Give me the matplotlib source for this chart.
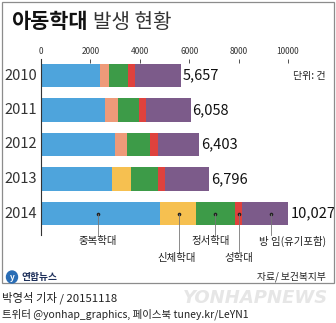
import numpy as np
import matplotlib
matplotlib.use('Agg')
import matplotlib.pyplot as plt
from matplotlib.patches import Rectangle, Ellipse

plt.rcParams['font.family'] = ['Noto Sans CJK KR', 'DejaVu Sans']

# data (건)
years = ['2010', '2011', '2012', '2013', '2014']
totals = [5657, 6058, 6403, 6796, 10027]
multi = [2389, 2605, 2996, 2891, 4814]      # 중복학대
physical = [364, 500, 474, 753, 1453]        # 신체학대
emotional = [781, 875, 943, 1101, 1582]      # 정서학대
sexual = [259, 258, 312, 273, 308]           # 성학대
neglect = [1864, 1820, 1678, 1778, 1870]     # 방임(유기포함)
cat_names = ['중복학대', '신체학대', '정서학대', '성학대', '방 임(유기포함)']
xticks = [0, 2000, 4000, 6000, 8000, 10000]

c_blue, c_salmon, c_yellow = '#4ea4dc', '#ee9a79', '#f6c050'
c_green, c_red, c_purple = '#3d9b48', '#df423d', '#7c5b8a'
# 2010-2012 use salmon for 신체학대, 2013-2014 use yellow
phys_colors = [c_salmon, c_salmon, c_salmon, c_yellow, c_yellow]

W, H = 336, 323
fig = plt.figure(figsize=(W / 100, H / 100), dpi=100)
fig.patch.set_facecolor('white')

# panel frame
fig.add_artist(Rectangle((1.5 / W, 1 - 283 / H), 332 / W, 281.5 / H, transform=fig.transFigure,
                         fill=False, ec='#8c8c8c', lw=0.9))

# axes placed in pixels: x 0 -> px 41, 10000 -> px 288 ; rows centred at px 75.5 + 34.5*i
ax_top, ax_bot = 59, 235
ax = fig.add_axes([41 / W, 1 - ax_bot / H, 247 / W, (ax_bot - ax_top) / H])
ax.set_xlim(0, 10000)
y0 = 75.5
step = 34.5
ax.set_ylim((ax_bot - y0) / step, (ax_top - y0) / step)
ax.patch.set_alpha(0)

y = np.arange(len(years))
segs = [multi, physical, emotional, sexual, neglect]
left = np.zeros(len(years))
for k, vals in enumerate(segs):
    cols = phys_colors if k == 1 else [c_blue, None, c_green, c_red, c_purple][k]
    ax.barh(y, vals, left=left, height=0.68, color=cols, lw=0)
    left += np.array(vals)

for i, t in enumerate(totals):
    ax.text(t + 80, i, f'{t:,}', va='center', ha='left', fontsize=10.5, color='#111')
    ax.text(-170, i, years[i], va='center', ha='right', fontsize=10.5, color='#333')

ax.xaxis.tick_top()
ax.set_xticks(xticks)
ax.set_xticklabels([str(v) for v in xticks], fontsize=6, color='#222')
ax.tick_params(axis='x', direction='in', length=3, width=0.6, pad=2, colors='#333')
ax.set_yticks([])
for s in ['right', 'bottom', 'top']:
    ax.spines[s].set_visible(False)
ax.spines['left'].set_linewidth(0.8)
ax.spines['left'].set_color('#333')

ax.text(1.15, 0, '단위: 건', transform=ax.get_yaxis_transform(),
        va='center', ha='right', fontsize=7.2, color='#222')

# category call-outs on the 2014 bar
frac = [0.48, 0.52, 0.5, 0.5, 0.62]
row = [0, 1, 0, 1, 0]
dx_lab = [0, -90, -200, 0, 850]
lab_y = [(241 - y0) / step, (258 - y0) / step]
end_y = [(235 - y0) / step, (252 - y0) / step]
start = 0
for k, vals in enumerate(segs):
    xd = start + frac[k] * vals[-1]
    start += vals[-1]
    ax.plot([xd], [4], 'o', ms=1.6, color='#222', clip_on=False)
    ax.plot([xd, xd], [4, end_y[row[k]]], color='#777', lw=0.6, clip_on=False)
    ax.text(xd + dx_lab[k], lab_y[row[k]], cat_names[k], ha='center', va='center',
            fontsize=7.5, color='#222', clip_on=False)

# title
fig.text(11 / W, 1 - 22 / H, '아동학대', fontsize=15, fontweight='bold', va='center', ha='left', color='#111')
fig.text(93 / W, 1 - 22 / H, '발생 현황', fontsize=14.5, fontweight='light', va='center', ha='left', color='#333')

# footer inside frame
fig.add_artist(Ellipse((12 / W, 1 - 277 / H), 11 / W, 12 / H, transform=fig.transFigure, color='#2a6db5'))
fig.text(12 / W, 1 - 277 / H, 'y', fontsize=6, fontweight='bold', color='white', ha='center', va='center', style='italic')
fig.text(21 / W, 1 - 277 / H, '연합뉴스', fontsize=7, fontweight='bold', color='#1d2f5a', ha='left', va='center')
fig.text(326 / W, 1 - 277 / H, '자료/ 보건복지부', fontsize=7, color='#222', ha='right', va='center')

# watermark and credits
fig.text(255 / W, 1 - 298 / H, 'YONHAPNEWS', fontsize=13, fontweight='bold', style='italic',
         color='#e6e6e6', ha='center', va='center', family=['DejaVu Sans'])
fig.text(2 / W, 1 - 298 / H, '박영석 기자 / 20151118', fontsize=8.2, color='#222', ha='left', va='center')
fig.text(2 / W, 1 - 314 / H, '트위터 @yonhap_graphics, 페이스북 tuney.kr/LeYN1', fontsize=7.5, color='#222',
         ha='left', va='center')

fig.savefig('out.png', dpi=100)
